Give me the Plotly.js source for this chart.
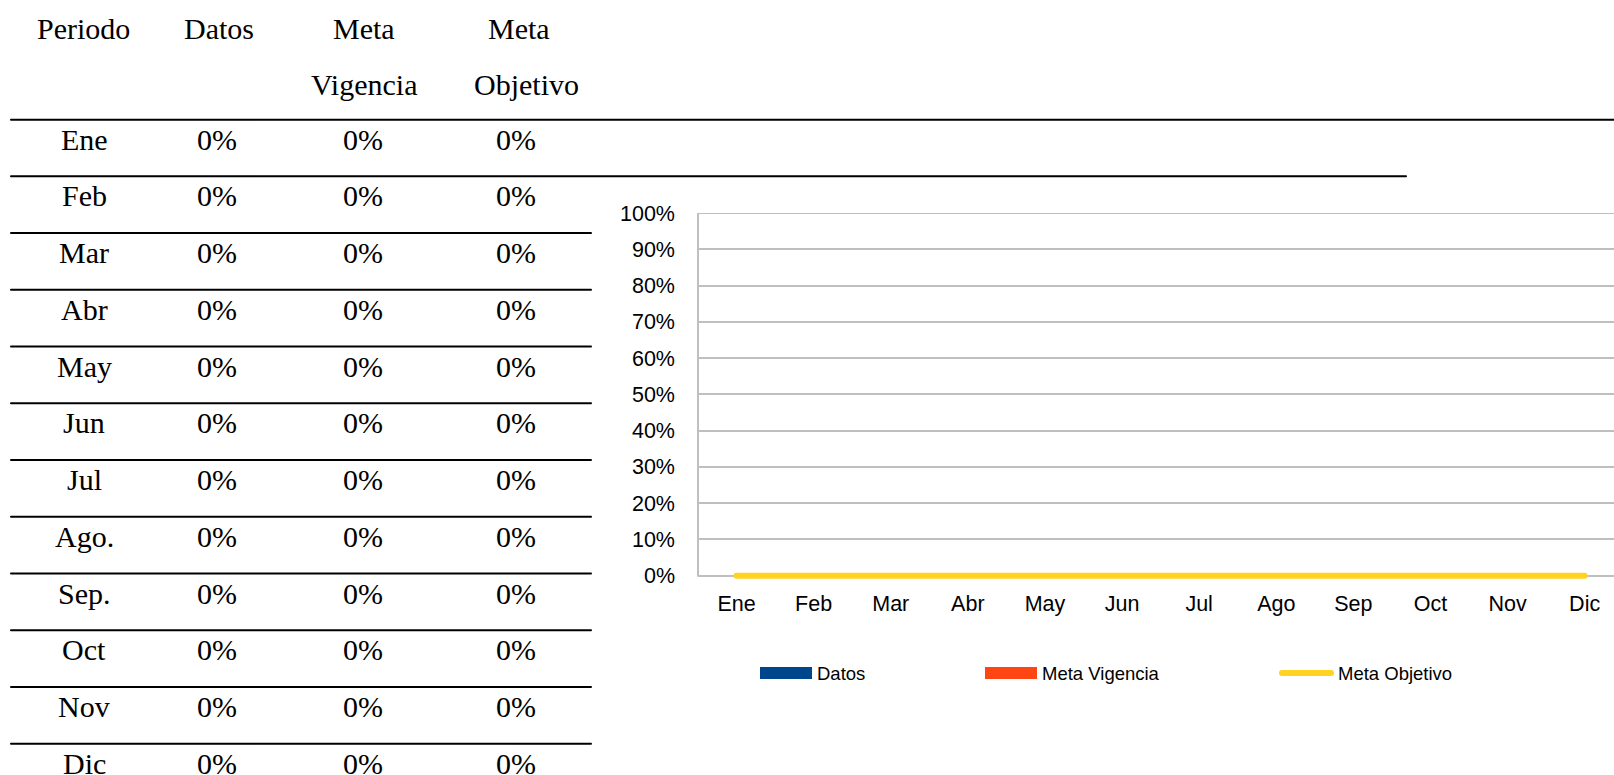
<!DOCTYPE html>
<html><head><meta charset="utf-8">
<script src="https://cdn.plot.ly/plotly-3.0.1.min.js"></script>
<style>
html,body{margin:0;padding:0;overflow:hidden;background:#fff}
#chart{width:1614px;height:775px}
.scatterlayer path.js-line{stroke-linecap:round}
.shapelayer path{stroke-linecap:round}
</style>
</head><body><div id="chart"></div>
<script>
// ---- data ----
const periodosTabla = ['Ene','Feb','Mar','Abr','May','Jun','Jul','Ago.','Sep.','Oct','Nov','Dic'];
const categorias = ['Ene','Feb','Mar','Abr','May','Jun','Jul','Ago','Sep','Oct','Nov','Dic'];
const datos        = [0,0,0,0,0,0,0,0,0,0,0,0];
const metaVigencia = [0,0,0,0,0,0,0,0,0,0,0,0];
const metaObjetivo = [0,0,0,0,0,0,0,0,0,0,0,0];
const encabezadoL1 = ['Periodo','Datos','Meta','Meta'];
const encabezadoL2 = ['','','Vigencia','Objetivo'];
const nombresSeries = ['Datos','Meta Vigencia','Meta Objetivo'];
const coloresSeries = ['#00468C','#FF4612','#FFD320'];

// ---- geometry (pixels) ----
const W = 1614, Hh = 775;
const plotL = 698, plotR = 1614, plotT = 213.3;
const yMin = -0.012, yMax = 1;
const pxPerUnit = 362.4;
const plotB = plotT + (yMax - yMin) * pxPerUnit;
const px = p => (p - plotL) / (plotR - plotL);
const py = p => (plotB - p) / (plotB - plotT);

const fmtPct = v => Math.round(v * 100) + '%';

const serif = {family: 'Liberation Serif, Times New Roman, serif', size: 30, color: '#000'};
const sans = 'Liberation Sans, Arial, sans-serif';

const annotations = [];
const shapes = [];

// table header
const hdrX1 = [83, 219, 364, 519];
const hdrX2 = [83, 219, 364, 526];
encabezadoL1.forEach((t, i) => {
  annotations.push({xref:'paper', yref:'paper', x: px(hdrX1[i]), y: py(29), text: t,
    showarrow:false, xanchor:'center', yanchor:'middle', font: serif});
  if (encabezadoL2[i]) annotations.push({xref:'paper', yref:'paper', x: px(hdrX2[i]), y: py(84.5), text: encabezadoL2[i],
    showarrow:false, xanchor:'center', yanchor:'middle', font: serif});
});

// table rows
const colX = [84, 217, 363, 516];
const rowH = 56.7;
periodosTabla.forEach((p, i) => {
  const yc = 139.5 + i * rowH;
  const vals = [p, fmtPct(datos[i]), fmtPct(metaVigencia[i]), fmtPct(metaObjetivo[i])];
  vals.forEach((t, j) => {
    annotations.push({xref:'paper', yref:'paper', x: px(colX[j]), y: py(yc), text: t,
      showarrow:false, xanchor:'center', yanchor:'middle', font: serif});
  });
});

// table rules
const lineStyle = {color:'#000', width:2};
shapes.push({type:'line', xref:'paper', yref:'paper', x0: px(11), x1: px(1614), y0: py(120), y1: py(120), line: lineStyle});
shapes.push({type:'line', xref:'paper', yref:'paper', x0: px(11), x1: px(1406), y0: py(176.7), y1: py(176.7), line: lineStyle});
for (let k = 2; k < periodosTabla.length; k++) {
  const y = 120 + k * rowH;
  shapes.push({type:'line', xref:'paper', yref:'paper', x0: px(11), x1: px(591), y0: py(y), y1: py(y), line: lineStyle});
}

// left axis line and top gridline (0 to 100%)
shapes.push({type:'line', xref:'paper', yref:'y', x0: 0, x1: 0, y0: 0, y1: 1, layer:'below',
  line:{color:'#BFBFBF', width:2}});
shapes.push({type:'line', xref:'paper', yref:'y', x0: 0, x1: 1, y0: 1, y1: 1, layer:'below',
  line:{color:'#BFBFBF', width:2}});

// custom legend
const legSwX = [760, 985, 1279];
const legTxtX = [815, 1040, 1336];
const legY = 673;
nombresSeries.forEach((n, i) => {
  if (i < 2) {
    shapes.push({type:'rect', xref:'paper', yref:'paper', x0: px(legSwX[i]), x1: px(legSwX[i] + 52),
      y0: py(legY - 6), y1: py(legY + 6), fillcolor: coloresSeries[i], line:{width:0}});
  } else {
    shapes.push({type:'line', xref:'paper', yref:'paper', x0: px(legSwX[i] + 3), x1: px(legSwX[i] + 52),
      y0: py(legY), y1: py(legY), line:{color: coloresSeries[i], width:6}});
  }
  annotations.push({xref:'paper', yref:'paper', x: px(legTxtX[i]), y: py(legY), text: n,
    showarrow:false, xanchor:'left', yanchor:'middle', font:{family: sans, size: 18.5, color:'#000'}});
});

const traces = [
  {type:'bar', name: nombresSeries[0], x: categorias, y: datos, marker:{color: coloresSeries[0], line:{width:0}}},
  {type:'bar', name: nombresSeries[1], x: categorias, y: metaVigencia, marker:{color: coloresSeries[1], line:{width:0}}},
  {type:'scatter', mode:'lines', name: nombresSeries[2], x: categorias, y: metaObjetivo,
   line:{color: coloresSeries[2], width:6}}
];

const layout = {
  width: W, height: Hh,
  margin: {l: plotL, r: W - plotR, t: plotT, b: Hh - plotB, pad: 0},
  paper_bgcolor:'#fff', plot_bgcolor:'#fff',
  showlegend: false,
  barmode: 'group',
  xaxis: {type:'category', range:[-0.5, -0.5 + (plotR - plotL) / 77.1], showgrid:false, zeroline:false,
    showline:false, ticks:'', ticklabelstandoff: 8,
    tickfont:{family: sans, size: 21.5, color:'#000'}, fixedrange:true},
  yaxis: {range:[yMin, yMax], dtick:0.1, tick0:0, tickformat:'.0%', showgrid:true, gridcolor:'#BFBFBF', gridwidth:2,
    zeroline:true, zerolinecolor:'#BFBFBF', zerolinewidth:2, showline:false, ticks:'', ticklabelstandoff: 22,
    tickfont:{family: sans, size: 21.5, color:'#000'}, fixedrange:true},
  annotations, shapes
};

Plotly.newPlot('chart', traces, layout, {staticPlot:true, displayModeBar:false});
</script>
</body></html>
